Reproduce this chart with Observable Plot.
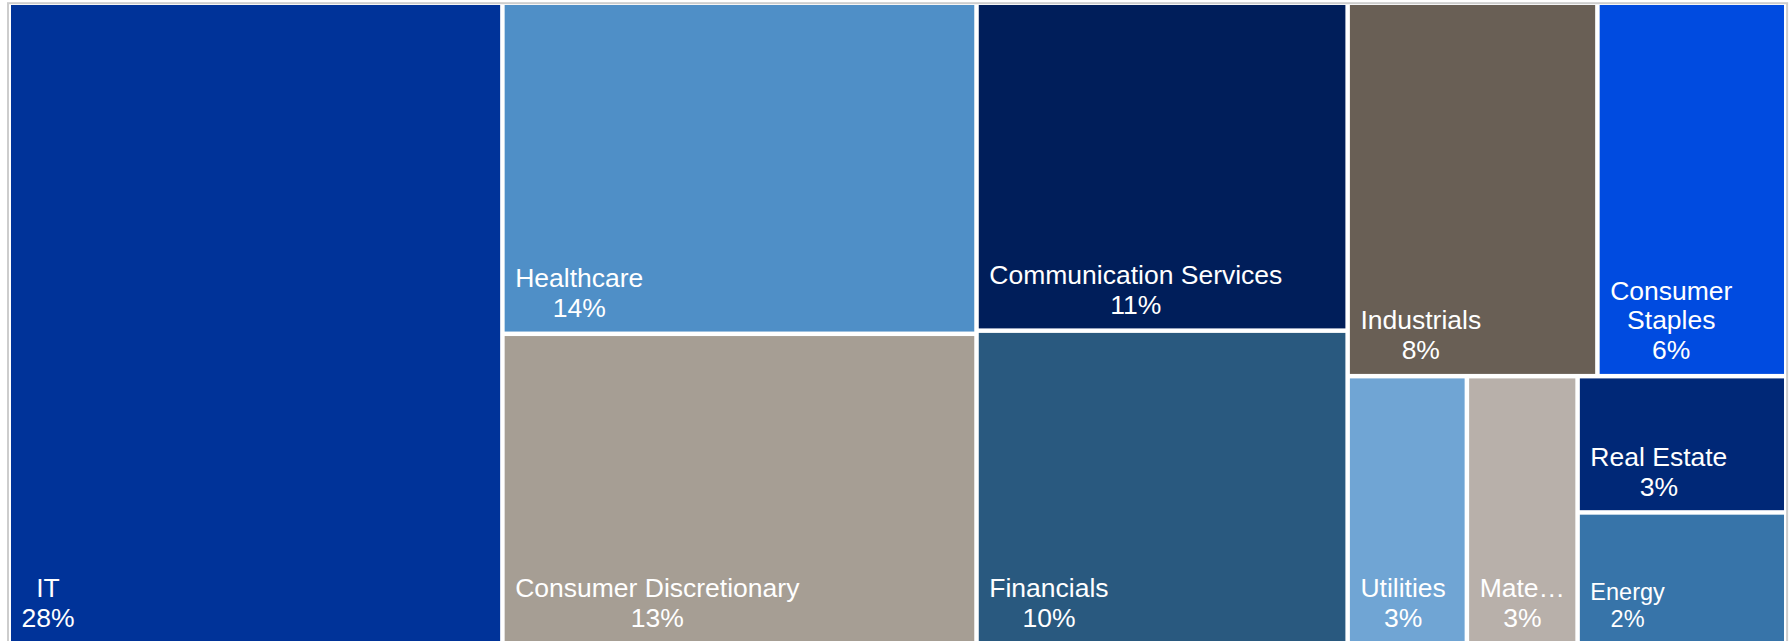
<!DOCTYPE html>
<html>
<head>
<meta charset="utf-8">
<script src="https://cdn.jsdelivr.net/npm/d3@7"></script>
<script src="https://cdn.jsdelivr.net/npm/@observablehq/plot@0.6"></script>
<style>
  html, body { margin: 0; padding: 0; background: #ffffff; }
  svg { display: block; }
</style>
</head>
<body>
<div id="chart"></div>
<script>
// ---- Data ----
const categories = ["IT", "Healthcare", "Consumer Discretionary", "Communication Services", "Financials",
  "Industrials", "Consumer Staples", "Utilities", "Materials", "Real Estate", "Energy"];
// estimated sector weights (tile areas), %
const weights = [27.8, 13.8, 12.9, 10.7, 10.2, 8.2, 6.2, 2.8, 2.6, 2.5, 2.4];
// percentages printed in the tiles
const percentLabels = [28, 14, 13, 11, 10, 8, 6, 3, 3, 3, 2];
// names as printed in the tiles (wrapped / truncated like the reference)
const labelNames = ["IT", "Healthcare", "Consumer Discretionary", "Communication Services", "Financials",
  "Industrials", "Consumer\nStaples", "Utilities", "Mate\u2026", "Real Estate", "Energy"];
// nesting of tiles (group path of each sector), as laid out in the reference
const tilePaths = ["0", "1", "1", "2", "2", "3/0", "3/0", "3/1", "3/1", "3/1/2", "3/1/2"];
const colors = ["#003399", "#4f8fc7", "#a69e94", "#001e5a", "#29597f",
  "#695f55", "#004be0", "#70a5d4", "#b8b0aa", "#002877", "#3774a9"];

// ---- Geometry ----
const width = 1789, height = 641;
const mL = 11, mR = 5, mT = 5, mB = 0;
const W = width - mL - mR, H = height - mT - mB;

// build hierarchy from the group paths
const rootData = {children: []};
const groupMap = new Map();
categories.forEach((name, i) => {
  let node = rootData, key = "";
  for (const seg of tilePaths[i].split("/")) {
    key += "/" + seg;
    if (!groupMap.has(key)) {
      const g = {children: []};
      groupMap.set(key, g);
      node.children.push(g);
    }
    node = groupMap.get(key);
  }
  node.children.push({name, value: weights[i], i});
});
const root = d3.hierarchy(rootData).sum(d => d.value || 0);
d3.treemap().size([W, H]).tile(d3.treemapSliceDice).paddingInner(4.5)(root);

const leaves = root.leaves().map(n => ({
  name: n.data.name, i: n.data.i, x0: n.x0, x1: n.x1, y0: n.y0, y1: n.y1
}));

const fontFamily = '"Liberation Sans", Arial, Helvetica, sans-serif';
const ctx = document.createElement("canvas").getContext("2d");
function blockWidth(lines, size) {
  ctx.font = `${size}px ${fontFamily}`;
  return d3.max(lines, l => ctx.measureText(l).width);
}
const labels = leaves.map(d => {
  const size = d.name === "Energy" ? 23.5 : 26.5;
  const text = labelNames[d.i] + "\n" + percentLabels[d.i] + "%";
  const lines = text.split("\n");
  return {...d, text, size, tx: d.x0 + 10 + blockWidth(lines, size) / 2, ty: d.y1 - 15};
});

const chart = Plot.plot({
  width, height,
  marginLeft: mL, marginRight: mR, marginTop: mT, marginBottom: mB,
  x: {domain: [0, W], axis: null},
  y: {domain: [0, H], reverse: true, axis: null},
  color: {domain: categories, range: colors},
  style: {fontFamily, background: "#ffffff"},
  marks: [
    Plot.frame({stroke: "#cdcdcd", strokeWidth: 2, insetLeft: -3.5, insetTop: -2.3, insetRight: -2.6, insetBottom: -8}),
    Plot.rect(leaves, {x1: "x0", x2: "x1", y1: "y0", y2: "y1", fill: "name"}),
    Plot.text(labels, {
      x: "tx", y: "ty", text: "text",
      fill: "#ffffff", fontSize: d => d.size,
      textAnchor: "middle", lineAnchor: "bottom", lineHeight: 1.13
    })
  ]
});
document.getElementById("chart").appendChild(chart);
</script>
</body>
</html>
